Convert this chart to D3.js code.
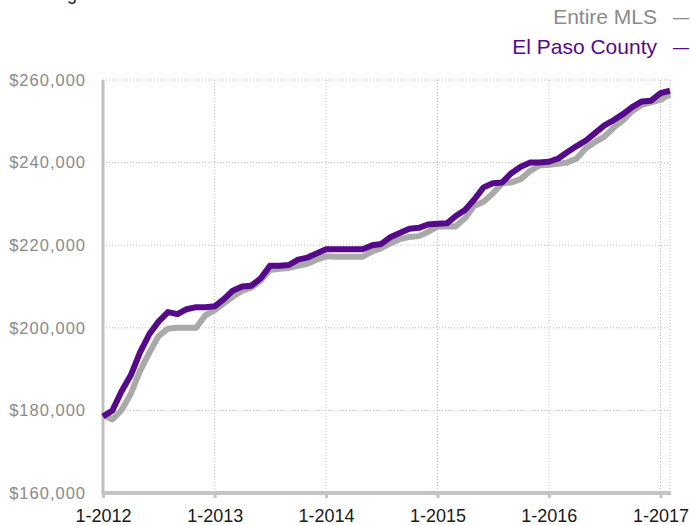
<!DOCTYPE html>
<html>
<head>
<meta charset="utf-8">
<script src="https://cdn.jsdelivr.net/npm/d3@7"></script>
<style>
  body { margin: 0; background: #fff; }
  svg { display: block; font-family: "Liberation Sans", Arial, sans-serif; }
</style>
</head>
<body>
<svg></svg>
<script>
// monthly values, Jan 2012 .. Feb 2017 (thousands of dollars)
const months = d3.range(62).map(i => new Date(2012, i, 1));

const elPasoCounty = [
  178.5, 180, 184.5, 188.5, 194, 198.5, 201.5, 203.8, 203.3, 204.5, 205, 205,
  205.2, 207, 209, 210, 210.2, 212, 215, 215, 215.2, 216.5, 217, 218,
  219, 219, 219, 219, 219, 220, 220.3, 222, 223, 224, 224.2, 225,
  225.2, 225.3, 227, 228.5, 231, 234, 235, 235.2, 237.5, 239, 240, 240,
  240.2, 241, 242.5, 244, 245.3, 247.2, 249, 250.3, 251.8, 253.5, 254.8, 255,
  256.8, 257.4
];

const entireMLS = [
  179, 177.8, 180, 184, 189.5, 194, 198, 199.8, 200, 200, 200, 203,
  204.3, 206, 207.5, 209, 209.7, 211.5, 214, 214.3, 214.5, 215, 215.5, 216.5,
  217.3, 217.2, 217.2, 217.2, 217.2, 218.5, 219.3, 220.5, 221.5, 222, 222.2, 223.2,
  224.5, 224.6, 224.5, 226.5, 229.5, 230.5, 232.5, 235, 235.2, 236, 238, 239.3,
  239.5, 239.7, 240, 241, 243.5, 245, 246.3, 248.5, 250.3, 252.5, 254, 254.6,
  255.2, 256.5
];

const yTicks = [160000, 180000, 200000, 220000, 240000, 260000];
const xTicks = [2012, 2013, 2014, 2015, 2016, 2017].map(y => new Date(y, 0, 1));

const seriesNames = ['Entire MLS', 'El Paso County'];
const seriesColors = ['#a9a9a9', '#56098a'];

const width = 691;
const height = 525;
const plotLeft = 103, plotRight = 670, plotTop = 80, plotBottom = 493;

let svg = d3.select('svg')
  .attr('width', width)
  .attr('height', height);

let xScale = d3.scaleTime()
  .domain([months[0], months[months.length - 1]])
  .range([plotLeft, plotRight]);

let yScale = d3.scaleLinear()
  .domain([160000, 260000])
  .range([plotBottom, plotTop]);

// title, mostly cut off at the top
svg.append('text')
  .attr('x', 22)
  .attr('y', -0.5)
  .style('font-size', '18px')
  .call(t => {
    t.append('tspan').attr('fill', '#222').text('Rolling ');
    t.append('tspan').attr('fill', '#888').text('12 Month Calculation');
  });

// grid
let grid = svg.append('g').attr('class', 'grid');
grid.selectAll('line.h')
  .data(yTicks.slice(1))
  .enter()
  .append('line')
  .attr('x1', plotLeft)
  .attr('x2', plotRight)
  .attr('y1', d => yScale(d))
  .attr('y2', d => yScale(d));
grid.selectAll('line.v')
  .data(xTicks.slice(1).concat([months[months.length - 1]]))
  .enter()
  .append('line')
  .attr('x1', d => xScale(d))
  .attr('x2', d => xScale(d))
  .attr('y1', plotTop)
  .attr('y2', plotBottom);
grid.selectAll('line')
  .attr('stroke', '#bdbdbd')
  .attr('stroke-width', 1)
  .attr('stroke-dasharray', '1,2');

// y axis
let yAxis = d3.axisLeft(yScale)
  .tickValues(yTicks)
  .tickSize(0)
  .tickPadding(17)
  .tickFormat(d => '$' + d3.format(',')(d));

svg.append('g')
  .attr('transform', 'translate(' + plotLeft + ',0)')
  .call(yAxis)
  .call(g => g.select('.domain').remove())
  .call(g => g.selectAll('text')
    .attr('fill', '#8a8a8a')
    .style('font-size', '16.5px')
    .style('letter-spacing', '1px')
    .style('font-family', '"Liberation Sans", Arial, sans-serif'));

svg.append('line')
  .attr('x1', plotLeft).attr('x2', plotLeft)
  .attr('y1', plotTop).attr('y2', plotBottom)
  .attr('stroke', '#bfbfbf')
  .attr('stroke-width', 3);

// x axis
let xAxis = d3.axisBottom(xScale)
  .tickValues(xTicks)
  .tickSize(5)
  .tickPadding(11)
  .tickFormat(d => '1-' + d.getFullYear());

svg.append('g')
  .attr('transform', 'translate(0,' + plotBottom + ')')
  .call(xAxis)
  .call(g => g.select('.domain').remove())
  .call(g => g.selectAll('.tick line')
    .attr('stroke', '#c4c4c4')
    .attr('stroke-width', 3))
  .call(g => g.selectAll('text')
    .attr('fill', '#1a1a1a')
    .style('font-size', '18px')
    .style('font-family', '"Liberation Sans", Arial, sans-serif'));

svg.append('line')
  .attr('x1', plotLeft - 1.5).attr('x2', plotRight + 1)
  .attr('y1', plotBottom).attr('y2', plotBottom)
  .attr('stroke', '#c4c4c4')
  .attr('stroke-width', 4);

// lines
let line = d3.line()
  .x((d, i) => xScale(months[i]))
  .y(d => yScale(d * 1000));

[entireMLS, elPasoCounty].forEach((values, k) => {
  svg.append('path')
    .datum(values)
    .attr('d', line)
    .attr('fill', 'none')
    .attr('stroke', seriesColors[k])
    .attr('stroke-width', 6)
    .attr('stroke-linejoin', 'round');
});

// legend
let legend = svg.append('g');
seriesNames.forEach((name, k) => {
  let color = k === 0 ? '#8a8a8a' : seriesColors[k];
  let y = 24 + k * 30;
  legend.append('text')
    .attr('x', 657)
    .attr('y', y)
    .attr('text-anchor', 'end')
    .attr('fill', color)
    .style('font-size', '21px')
    .text(name);
  legend.append('text')
    .attr('x', 689)
    .attr('y', y - 1)
    .attr('text-anchor', 'end')
    .attr('fill', color)
    .style('font-size', '16px')
    .text('\u2014');
});
</script>
</body>
</html>
